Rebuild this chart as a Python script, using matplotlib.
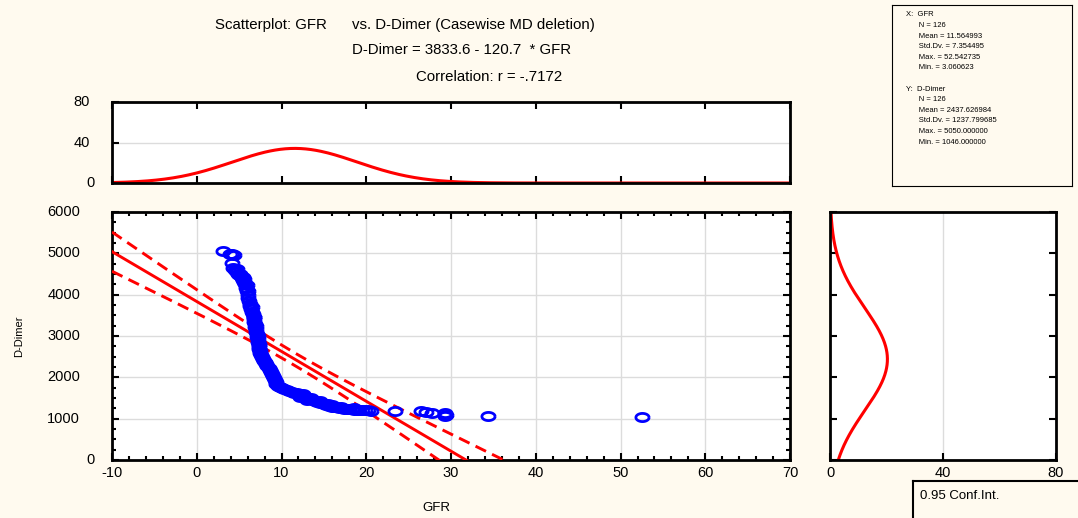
import numpy as np
import matplotlib
matplotlib.use("Agg")
import matplotlib.pyplot as plt
from matplotlib.path import Path
from matplotlib.ticker import MultipleLocator
from matplotlib.transforms import ScaledTranslation

plt.rcParams['font.family'] = ['Liberation Sans', 'DejaVu Sans']
plt.rcParams['axes.unicode_minus'] = False

# --- data ---
gfr = [3.06, 3.9, 4.2, 4.4, 4.1, 4.3, 4.5, 4.6, 4.8, 4.9, 5.0, 5.2, 5.3, 5.5, 5.6, 5.7, 5.8, 5.9, 6.0, 6.1,
       4.7, 5.1, 5.4, 5.6, 5.9, 6.1,
       6.2, 6.3, 6.3, 6.4, 6.5, 6.6, 6.7, 6.7, 6.8, 6.9, 6.9, 7.0, 7.0, 7.1, 7.1, 7.2, 7.2, 7.3, 7.3, 7.4,
       7.5, 7.5, 7.6, 7.7, 7.8, 6.5, 6.8, 7.0, 7.2, 7.4,
       7.9, 8.0, 8.2, 8.3, 8.5, 8.6, 8.8, 8.9, 9.0, 9.1, 9.2, 9.3, 9.4, 9.6, 9.8, 10.0, 10.3, 10.6, 10.9, 11.2,
       11.5, 11.8, 12.0, 12.3, 12.6, 12.9, 13.1, 13.4, 13.7, 14.0, 14.2, 14.5, 14.8, 15.0, 15.3, 15.6, 15.9,
       16.2, 16.5, 16.8, 17.1, 17.4, 17.7, 18.0, 18.3, 18.6, 18.9, 19.2, 19.5, 19.8, 20.2, 20.5,
       12.5, 13.5, 14.5, 15.5, 16.0, 17.0, 18.5, 12.2, 13.0,
       23.4, 26.4, 27.0, 27.8, 29.3, 29.4, 29.3, 34.4, 52.54]
ddimer = [5050, 4990, 4980, 4960, 4760, 4650, 4600, 4560, 4540, 4500, 4470, 4440, 4400, 4360, 4300, 4250,
          4170, 4080, 4000, 3930,
          4620, 4500, 4420, 4380, 4230, 4100,
          3850, 3780, 3720, 3650, 3580, 3520, 3460, 3400, 3340, 3280, 3220, 3160, 3100, 3040, 2980, 2920,
          2860, 2800, 2740, 2690, 2640, 2590, 2540, 2490, 2440, 3700, 3450, 3250, 3000, 2780,
          2400, 2360, 2320, 2280, 2230, 2180, 2130, 2080, 2030, 1980, 1930, 1880, 1840, 1800, 1760, 1730,
          1710, 1690, 1670, 1650,
          1630, 1610, 1590, 1570, 1550, 1520, 1500, 1480, 1460, 1430, 1410, 1390, 1370, 1350, 1330, 1310,
          1290, 1280, 1270, 1260, 1250, 1240, 1235, 1230, 1225, 1220, 1215, 1210, 1205, 1200, 1200, 1195,
          1600, 1510, 1430, 1360, 1320, 1280, 1250, 1520, 1450,
          1185, 1190, 1160, 1140, 1130, 1090, 1065, 1065, 1046]

# summary statistics shown in the chart
n_cases = 126
x_mean, x_sd = 11.564993, 7.354495
y_mean, y_sd = 2437.626984, 1237.799685
intercept, slope, r = 3833.6, -120.7, -0.7172
x_bin, y_bin = 5, 500

main_yticks = [0, 1000, 2000, 3000, 4000, 5000, 6000]
top_yticks = [0, 40, 80]

stats_lines = ["X:  GFR", "      N = 126", "      Mean = 11.564993", "      Std.Dv. = 7.354495",
               "      Max. = 52.542735", "      Min. = 3.060623", "",
               "Y:  D-Dimer", "      N = 126", "      Mean = 2437.626984", "      Std.Dv. = 1237.799685",
               "      Max. = 5050.000000", "      Min. = 1046.000000"]

bg = '#FFFAEF'
red = '#FF0000'
blue = '#0000FF'
grid_c = '#DCDCDC'

fig = plt.figure(figsize=(10.78, 5.18), dpi=100, facecolor=bg)

ax = fig.add_axes([0.1039, 0.112, 0.629, 0.4788])
ax_top = fig.add_axes([0.1039, 0.6467, 0.629, 0.1564])
ax_right = fig.add_axes([0.770, 0.112, 0.2096, 0.4788])


def style(a):
    for s in a.spines.values():
        s.set_linewidth(2)
        s.set_color('black')
    a.tick_params(which='both', direction='in', width=1.5, labelsize=10.5, color='black', pad=4)
    a.tick_params(which='major', length=5)
    a.tick_params(which='minor', length=3)
    a.set_facecolor('white')


def ylabels(a, values):
    # Statistica-style placement: right edge moves left as the label gets longer
    for v in values:
        s = str(v)
        dx = -(17 + 5 * (len(s) - 1)) / 100
        tr = a.get_yaxis_transform() + ScaledTranslation(dx, 0, fig.dpi_scale_trans)
        a.text(0, v, s, transform=tr, ha='right', va='center', fontsize=10.5)


# ellipse marker (wider than tall)
t = np.linspace(0, 2 * np.pi, 40)
ell = Path(np.column_stack([np.cos(t), 0.62 * np.sin(t)]))

# --- main scatter ---
style(ax)
ax.set_xlim(-10, 70)
ax.set_ylim(0, 6000)
ax.xaxis.set_major_locator(MultipleLocator(10))
ax.xaxis.set_minor_locator(MultipleLocator(2))
ax.set_yticks(main_yticks)
ax.yaxis.set_minor_locator(MultipleLocator(250))
ax.tick_params(which='both', top=True, right=True, labelleft=False)
ax.grid(True, which='major', color=grid_c, lw=1)
ax.set_axisbelow(True)
ylabels(ax, main_yticks)

xs = np.linspace(-10, 70, 400)
yfit = intercept + slope * xs
s_res = y_sd * np.sqrt(1 - r ** 2) * np.sqrt((n_cases - 1) / (n_cases - 2))
sxx = (n_cases - 1) * x_sd ** 2
half = 1.979 * s_res * np.sqrt(1 / n_cases + (xs - x_mean) ** 2 / sxx)
ax.plot(xs, yfit, color=red, lw=2.1, zorder=3)
ax.plot(xs, yfit + half, color=red, lw=2.1, dashes=(4, 2.3), zorder=3)
ax.plot(xs, yfit - half, color=red, lw=2.1, dashes=(4, 2.3), zorder=3)
ax.plot(gfr, ddimer, ls='none', marker=ell, ms=9.5, mfc='none', mec=blue, mew=2.0, zorder=4)

ax.set_xlabel('GFR', fontsize=9.5)
ax.xaxis.set_label_coords(0.478, -0.168)
ax.set_ylabel('D-Dimer', fontsize=8, fontstretch='condensed')
ax.yaxis.set_label_coords(-0.130, 0.5)

# --- top marginal: GFR normal fit ---
style(ax_top)
ax_top.set_xlim(-10, 70)
ax_top.set_ylim(0, 80)
ax_top.xaxis.set_major_locator(MultipleLocator(10))
ax_top.set_yticks(top_yticks)
ax_top.tick_params(which='both', top=True, labelbottom=False, labelleft=False)
ax_top.grid(True, axis='y', color=grid_c, lw=1)
ax_top.set_axisbelow(True)
ylabels(ax_top, top_yticks)
dens_x = n_cases * x_bin * np.exp(-0.5 * ((xs - x_mean) / x_sd) ** 2) / (x_sd * np.sqrt(2 * np.pi))
ax_top.plot(xs, dens_x, color=red, lw=2.2)

# --- right marginal: D-Dimer normal fit ---
style(ax_right)
ax_right.set_xlim(0, 80)
ax_right.set_ylim(0, 6000)
ax_right.set_xticks([0, 40, 80])
ax_right.set_yticks(main_yticks)
ax_right.tick_params(which='both', right=True, labelleft=False)
ax_right.grid(True, axis='x', color=grid_c, lw=1)
ax_right.set_axisbelow(True)
ys = np.linspace(0, 6000, 400)
dens_y = n_cases * y_bin * np.exp(-0.5 * ((ys - y_mean) / y_sd) ** 2) / (y_sd * np.sqrt(2 * np.pi))
ax_right.plot(dens_y, ys, color=red, lw=2.2)

# --- titles ---
fs_title = 10.8
fig.text(215 / 1078, 1 - 25 / 518, 'Scatterplot: GFR', fontsize=fs_title, va='center', ha='left')
fig.text(352 / 1078, 1 - 25 / 518, 'vs. D-Dimer (Casewise MD deletion)', fontsize=fs_title, va='center', ha='left')
fig.text(352 / 1078, 1 - 50 / 518, 'D-Dimer = 3833.6 - 120.7  * GFR', fontsize=fs_title, va='center', ha='left')
fig.text(416 / 1078, 1 - 77 / 518, 'Correlation: r = -.7172', fontsize=fs_title, va='center', ha='left')

# --- stats box ---
box = fig.add_axes([892 / 1078, 1 - 186 / 518, 180 / 1078, 181 / 518])
box.set_facecolor(bg)
box.set_xticks([])
box.set_yticks([])
for s in box.spines.values():
    s.set_linewidth(0.8)
for i, line in enumerate(stats_lines):
    box.text(14 / 180, 1 - (10 + i * 10.6) / 181, line, fontsize=5.5, va='center', ha='left',
             transform=box.transAxes)

# --- conf. int. legend box ---
leg = fig.add_axes([913 / 1078, -0.02, 0.2, 37 / 518 + 0.02])
leg.set_facecolor(bg)
leg.set_xticks([])
leg.set_yticks([])
for s in leg.spines.values():
    s.set_linewidth(1.5)
fig.text(920 / 1078, 1 - 496 / 518, '0.95 Conf.Int.', fontsize=9.5, va='center', ha='left')

fig.savefig('out.png', dpi=100, facecolor=bg)
